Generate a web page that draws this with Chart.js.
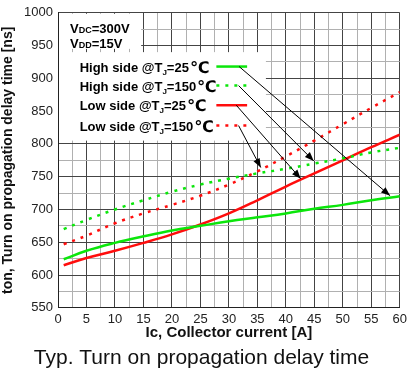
<!DOCTYPE html>
<html lang="en">
<head>
    <meta charset="UTF-8">
    <title>Typ. Turn on propagation delay time</title>
    <style>
        body { margin: 0; background: #fff; }
        #wrap { position: relative; width: 411px; height: 372px; }
    </style>
</head>
<body>
    <div id="wrap">
        <canvas id="delayChart"></canvas>
    </div>

    <script src="https://cdn.jsdelivr.net/npm/chart.js"></script>
    <script>
        // Collector current [A] and turn-on delay [ns] for each curve
        const currents = [1, 5, 10, 15, 20, 25, 30, 35, 40, 45, 50, 55, 60];
        const highSide25 = [624, 637, 649, 659, 668, 675, 682, 688, 694, 701, 707, 714, 720];
        const highSide150 = [670, 684, 700, 714, 727, 738, 747, 755, 762, 770, 778, 787, 794];
        const lowSide25 = [615, 626, 637, 649, 662, 677, 694, 714, 735, 755, 775, 795, 814];
        const lowSide150 = [647, 660, 679, 694, 707, 721, 738, 758, 781, 805, 830, 855, 879];

        // grid positions; only every other one carries a label
        const xTicks = [0, 2.5, 5, 7.5, 10, 12.5, 15, 17.5, 20, 22.5, 25, 27.5, 30, 32.5,
                        35, 37.5, 40, 42.5, 45, 47.5, 50, 52.5, 55, 57.5, 60];
        const yTicks = [550, 575, 600, 625, 650, 675, 700, 725, 750, 775, 800, 825,
                        850, 875, 900, 925, 950, 975, 1000];

        const seriesNames = ['High side', 'High side', 'Low side', 'Low side'];
        const seriesTemps = ['25', '150', '25', '150'];

        const GREEN = '#0be60b';
        const RED = '#ff0d0d';
        const FONT = '"Liberation Sans", Arial, sans-serif';

        // legend rows and their leader arrows, in data units
        const legendRowY = [918, 889, 859, 828];
        const arrowFrom = [[31.8, 918], [31.7, 889], [31.3, 859], [31.7, 828]];
        const arrowTo = [[58.3, 721], [44.9, 774], [42.6, 747], [35.6, 764]];

        function points(values) {
            return currents.map((c, i) => ({ x: c, y: values[i] }));
        }

        function line(values, color, dashed) {
            return {
                data: points(values),
                borderColor: color,
                borderWidth: 2.5,
                borderDash: dashed ? [3, 6] : [],
                pointRadius: 0,
                tension: 0.4,
                fill: false
            };
        }

        const styles = [
            { color: GREEN, dashed: false },
            { color: GREEN, dashed: true },
            { color: RED, dashed: false },
            { color: RED, dashed: true }
        ];

        const isMajor = (v, step) => Math.abs(v % step) < 1e-6;

        // white panels behind the condition text and the legend
        const panels = {
            id: 'panels',
            beforeDatasetsDraw(chart) {
                const { ctx, scales: { x, y }, chartArea: area } = chart;
                ctx.save();
                ctx.fillStyle = '#fff';
                const l = area.left + 1;
                ctx.fillRect(l, area.top + 1, x.getPixelForValue(14.6) - l, y.getPixelForValue(945) - area.top - 1);
                ctx.fillRect(l, y.getPixelForValue(940), x.getPixelForValue(36.5) - l, y.getPixelForValue(805) - y.getPixelForValue(940));
                ctx.restore();
            }
        };

        function drawParts(ctx, x, y, parts) {
            parts.forEach(p => {
                ctx.font = p.font;
                ctx.fillText(p.t, x, y + (p.dy || 0));
                x += ctx.measureText(p.t).width + (p.gap || 0);
            });
        }

        const notes = {
            id: 'notes',
            afterDatasetsDraw(chart) {
                const { ctx, scales: { x, y } } = chart;
                ctx.save();
                ctx.fillStyle = '#000';
                ctx.textBaseline = 'alphabetic';

                const bold = 'bold 13px ' + FONT;
                const small = 'bold 9px ' + FONT;
                const tx = x.getPixelForValue(2.1);
                drawParts(ctx, tx, y.getPixelForValue(977) + 5, [
                    { t: 'V', font: bold }, { t: 'DC', font: small }, { t: '=300V', font: bold }
                ]);
                drawParts(ctx, tx, y.getPixelForValue(954) + 5, [
                    { t: 'V', font: bold }, { t: 'DD', font: small }, { t: '=15V', font: bold }
                ]);

                const lx = x.getPixelForValue(3.8);
                legendRowY.forEach((v, i) => {
                    const py = y.getPixelForValue(v);
                    drawParts(ctx, lx, py + 5, [
                        { t: seriesNames[i] + ' @T', font: bold },
                        { t: 'J', font: 'bold 8px ' + FONT, dy: 3 },
                        { t: '=' + seriesTemps[i], font: bold, gap: 1 },
                        { t: '\u2103', font: 'bold 16px "DejaVu Sans", sans-serif', dy: 1 }
                    ]);
                    ctx.beginPath();
                    ctx.strokeStyle = styles[i].color;
                    ctx.lineWidth = 2.5;
                    ctx.setLineDash(styles[i].dashed ? [3, 6] : []);
                    ctx.moveTo(x.getPixelForValue(27.8), py);
                    ctx.lineTo(x.getPixelForValue(33.2), py);
                    ctx.stroke();
                });

                // leader arrows from legend to curves
                ctx.setLineDash([]);
                ctx.strokeStyle = '#000';
                ctx.lineWidth = 1;
                arrowFrom.forEach((f, i) => {
                    const x0 = x.getPixelForValue(f[0]), y0 = y.getPixelForValue(f[1]);
                    const x1 = x.getPixelForValue(arrowTo[i][0]), y1 = y.getPixelForValue(arrowTo[i][1]);
                    const ang = Math.atan2(y1 - y0, x1 - x0);
                    ctx.beginPath();
                    ctx.moveTo(x0, y0);
                    ctx.lineTo(x1, y1);
                    ctx.stroke();
                    ctx.beginPath();
                    ctx.moveTo(x1, y1);
                    ctx.lineTo(x1 - 9 * Math.cos(ang) + 3.5 * Math.sin(ang), y1 - 9 * Math.sin(ang) - 3.5 * Math.cos(ang));
                    ctx.lineTo(x1 - 9 * Math.cos(ang) - 3.5 * Math.sin(ang), y1 - 9 * Math.sin(ang) + 3.5 * Math.cos(ang));
                    ctx.closePath();
                    ctx.fill();
                });
                ctx.restore();
            }
        };

        const ctx = document.getElementById('delayChart').getContext('2d');
        new Chart(ctx, {
            type: 'line',
            data: {
                datasets: [highSide25, highSide150, lowSide25, lowSide150]
                    .map((v, i) => line(v, styles[i].color, styles[i].dashed))
            },
            plugins: [panels, notes],
            options: {
                responsive: true,
                maintainAspectRatio: false,
                animation: false,
                layout: { padding: { top: 11, right: 8, left: 0, bottom: 0 } },
                plugins: {
                    legend: { display: false },
                    tooltip: { enabled: false },
                    title: {
                        display: true,
                        position: 'bottom',
                        text: 'Typ. Turn on propagation delay time',
                        color: '#111',
                        font: { family: FONT, size: 21, weight: 'normal' },
                        padding: { top: 4, bottom: 1 }
                    }
                },
                scales: {
                    x: {
                        type: 'linear',
                        min: 0, max: 60,
                        afterFit: s => { s.height = 34; },
                        afterBuildTicks: s => { s.ticks = xTicks.map(v => ({ value: v })); },
                        ticks: {
                            color: '#222', padding: 4, autoSkip: false, maxRotation: 0,
                            font: { family: FONT, size: 13 },
                            callback: v => isMajor(v, 5) ? String(v) : ''
                        },
                        grid: {
                            lineWidth: 1, drawTicks: false,
                            color: c => (c.tick && !isMajor(c.tick.value, 5)) ? '#b0b0b0' : '#444'
                        },
                        border: { color: '#222' },
                        title: {
                            display: true,
                            text: 'Ic, Collector current [A]',
                            color: '#111',
                            font: { family: FONT, size: 15, weight: 'bold' },
                            padding: 0
                        }
                    },
                    y: {
                        min: 550, max: 1000,
                        afterFit: s => { s.width = 58; },
                        afterBuildTicks: s => { s.ticks = yTicks.map(v => ({ value: v })); },
                        ticks: {
                            color: '#222', padding: 5, autoSkip: false,
                            font: { family: FONT, size: 13 },
                            callback: v => isMajor(v, 50) ? String(v) : ''
                        },
                        grid: {
                            lineWidth: 1, drawTicks: false,
                            color: c => (c.tick && !isMajor(c.tick.value, 50)) ? '#b0b0b0' : '#444'
                        },
                        border: { color: '#222' },
                        title: {
                            display: true,
                            text: 'ton, Turn on propagation delay time [ns]',
                            color: '#111',
                            font: { family: FONT, size: 14, weight: 'bold' },
                            padding: 0
                        }
                    }
                }
            }
        });
    </script>
</body>
</html>
